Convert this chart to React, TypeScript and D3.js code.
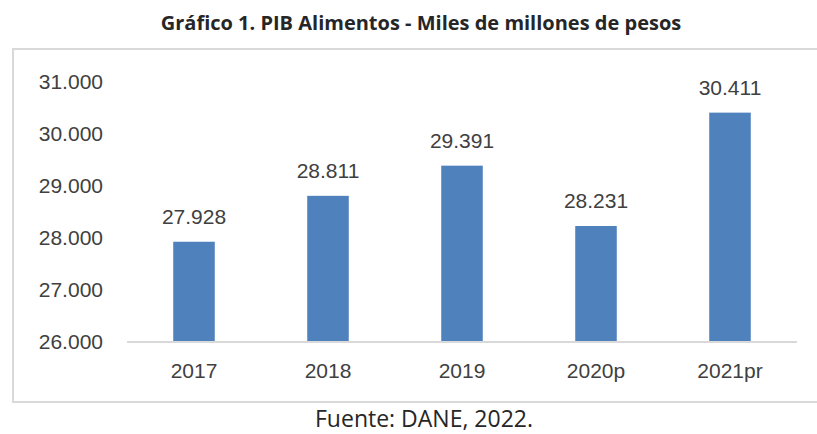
import React from "react";
import * as d3 from "d3";

const categories = ["2017", "2018", "2019", "2020p", "2021pr"];
const values = [27928, 28811, 29391, 28231, 30411];
const yTicks = [26000, 27000, 28000, 29000, 30000, 31000];
const title = "Gráfico 1. PIB Alimentos - Miles de millones de pesos";
const source = "Fuente: DANE, 2022.";

const fmt = (v: number) => d3.format(",")(v).replace(/,/g, ".");

export default function App() {
  const W = 817, H = 434;
  const x = d3.scaleBand<string>().domain(categories).range([127, 797]).paddingInner(0.69).paddingOuter(0.345);
  const y = d3.scaleLinear().domain([26000, 31000]).range([342, 82]);
  const font = "'Liberation Sans', Arial, sans-serif";
  return (
    <svg width={W} height={H} style={{ position: "absolute", left: 0, top: 0, background: "#fff" }}>
      <text x={421} y={30} textAnchor="middle" fontFamily="'Open Sans', sans-serif" fontWeight={700} fontSize={20} fill="#262626">{title}</text>
      <rect x={13} y={49} width={900} height={353} fill="none" stroke="#d9d9d9" strokeWidth={2} />
      {yTicks.map(t => (
        <text key={t} x={103} y={y(t)} dy="0.35em" textAnchor="end" fontFamily={font} fontSize={21} fill="#404040">{fmt(t)}</text>
      ))}
      {categories.map((c, i) => (
        <g key={c}>
          <rect x={x(c)} y={y(values[i])} width={x.bandwidth()} height={y(26000) - y(values[i])} fill="#4F81BD" />
          <text x={(x(c) as number) + x.bandwidth() / 2} y={y(values[i]) - 18} textAnchor="middle" fontFamily={font} fontSize={21} fill="#404040">{fmt(values[i])}</text>
          <text x={(x(c) as number) + x.bandwidth() / 2} y={378} textAnchor="middle" fontFamily={font} fontSize={21} fill="#404040">{c}</text>
        </g>
      ))}
      <line x1={127} x2={797} y1={y(26000)} y2={y(26000)} stroke="#d9d9d9" strokeWidth={2} />
      <text x={424} y={427} textAnchor="middle" fontFamily="'Open Sans', sans-serif" fontSize={23} fill="#262626">{source}</text>
    </svg>
  );
}
